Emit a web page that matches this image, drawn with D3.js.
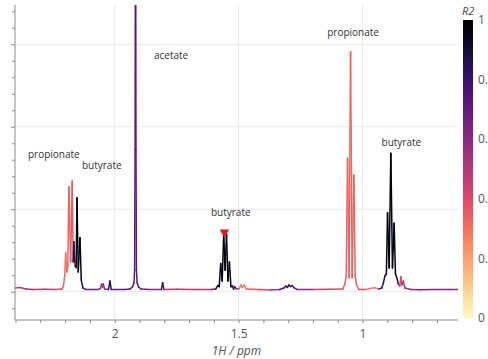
<!DOCTYPE html>
<html>
<head>
<meta charset="utf-8">
<script src="https://cdn.jsdelivr.net/npm/d3@7"></script>
<style>
  html, body { margin: 0; padding: 0; background: #fff; }
  svg { display: block; }
  text { font-family: "Open Sans", "Noto Sans", sans-serif; }
</style>
</head>
<body>
<svg id="chart" width="488" height="359"></svg>
<script>
// 1H NMR spectrum (chemical shift in ppm), each point coloured by its R2 value
const ppm = [
  2.402, 2.382, 2.358, 2.329, 2.281, 2.241, 2.212,
  2.2065, 2.2012, 2.1976, 2.1935, 2.189, 2.1843, 2.1776, 2.171, 2.1673, 2.1645, 2.160, 2.1577, 2.1552,
  2.152, 2.1468, 2.1399, 2.1347, 2.1278, 2.1157,
  2.0673, 2.0573, 2.0524, 2.0492, 2.046, 2.0411, 2.025, 2.019, 2.0137, 1.9585,
  1.9383, 1.9282, 1.9222, 1.9195, 1.9176, 1.9164, 1.9152, 1.914, 1.9122, 1.9093, 1.9032, 1.894,
  1.86, 1.8113, 1.8065, 1.8016, 1.75, 1.68, 1.61,
  1.592, 1.5843, 1.5783, 1.5722, 1.5662, 1.5601, 1.5545, 1.5488, 1.543, 1.5371, 1.531, 1.525,
  1.520, 1.5169, 1.5109, 1.4988, 1.4907, 1.4847, 1.4766, 1.4685, 1.42, 1.37,
  1.3335, 1.3173, 1.3093, 1.3032, 1.2972, 1.2911, 1.2851, 1.277, 1.265, 1.20, 1.13,
  1.0794, 1.0714, 1.0661, 1.0605, 1.0544, 1.0484, 1.042, 1.0351, 1.0298, 1.0242, 1.0149,
  0.9867, 0.9625, 0.9504, 0.9343,
  0.9222, 0.9161, 0.91, 0.904, 0.8992, 0.8927, 0.8859, 0.8794, 0.8726, 0.8673, 0.8617, 0.8556,
  0.8496, 0.8456, 0.8415, 0.8355, 0.8294, 0.8048, 0.769, 0.7085, 0.648, 0.6157
];
const intensity = [
  0.045, 0.050, 0.033, 0.027, 0.029, 0.027, 0.033,
  0.069, 0.20, 0.473, 0.239, 0.31, 1.273, 0.36, 1.342, 0.36, 0.606, 0.31, 0.36, 0.29,
  1.14, 0.24, 0.655, 0.14, 0.045, 0.027,
  0.027, 0.039, 0.093, 0.057, 0.093, 0.033, 0.027, 0.13, 0.027, 0.027,
  0.033, 0.057, 0.105, 0.263, 1.72, 4.0, 4.0, 1.72, 0.263, 0.105, 0.057, 0.033,
  0.027, 0.027, 0.109, 0.027, 0.029, 0.027, 0.027,
  0.033, 0.075, 0.06, 0.342, 0.13, 0.706, 0.26, 0.694, 0.13, 0.36, 0.06, 0.069,
  0.030, 0.063, 0.039, 0.033, 0.081, 0.051, 0.081, 0.033, 0.027, 0.022,
  0.027, 0.045, 0.069, 0.053, 0.081, 0.063, 0.075, 0.051, 0.027, 0.027, 0.029,
  0.033, 0.093, 0.19, 1.618, 0.166, 2.91, 0.166, 1.415, 0.19, 0.081, 0.027,
  0.027, 0.041, 0.047, 0.033,
  0.045, 0.105, 0.19, 0.215, 0.958, 0.287, 1.678, 0.287, 0.829, 0.215, 0.166, 0.093,
  0.069, 0.182, 0.081, 0.13, 0.045, 0.027, 0.024, 0.027, 0.027, 0.027
];
const r2 = [
  0.45, 0.50, 0.55, 0.60, 0.50, 0.45, 0.40,
  0.35, 0.32, 0.30, 0.32, 0.33, 0.33, 0.35, 0.35, 0.60, 0.85, 0.70, 0.40, 0.80,
  0.97, 0.90, 0.95, 0.85, 0.70, 0.65,
  0.65, 0.60, 0.55, 0.55, 0.55, 0.60, 0.65, 0.85, 0.70, 0.65,
  0.70, 0.72, 0.72, 0.72, 0.72, 0.72, 0.72, 0.72, 0.72, 0.72, 0.72, 0.65,
  0.60, 0.60, 0.85, 0.60, 0.50, 0.50, 0.55,
  0.70, 0.90, 0.85, 0.95, 0.95, 0.97, 0.97, 0.97, 0.95, 0.95, 0.85, 0.90,
  0.75, 0.75, 0.60, 0.35, 0.30, 0.30, 0.30, 0.35, 0.42, 0.45,
  0.55, 0.75, 0.80, 0.80, 0.85, 0.80, 0.80, 0.75, 0.60, 0.45, 0.45,
  0.40, 0.35, 0.33, 0.33, 0.33, 0.33, 0.33, 0.33, 0.33, 0.35, 0.40,
  0.40, 0.30, 0.28, 0.35,
  0.70, 0.80, 0.85, 0.90, 0.97, 0.95, 0.98, 0.95, 0.97, 0.90, 0.85, 0.70,
  0.50, 0.40, 0.45, 0.50, 0.55, 0.60, 0.60, 0.62, 0.60, 0.60
];

// x-axis ticks every 0.1 ppm; only these carry labels
const xMinorTicks = d3.range(7, 25).map(d => d / 10);
const xLabelValues = [2, 1.5, 1];
const xLabelTexts = ["2", "1.5", "1"];
// y-axis: unlabelled ticks, gridlines at whole units
const yMinorTicks = d3.range(-1, 18).map(d => d / 5);
const yGrid = [0, 1, 2, 3];

// metabolite assignments (left edge of label in ppm, baseline in intensity units)
const noteText = ["acetate", "propionate", "butyrate", "butyrate", "propionate", "butyrate"];
const notePpm = [1.8415, 2.3496, 2.1319, 1.6117, 1.1427, 0.9234];
const noteLevel = [2.822, 1.627, 1.488, 0.918, 3.10, 1.767];

// selected peak marker
const markerPpm = 1.5573;
const markerLevel = 0.72;

// colour-bar ticks
const cbTicks = [0, 0.2, 0.4, 0.6, 0.8, 1];
const cbTickText = ["0", "0.2", "0.4", "0.6", "0.8", "1"];

const svg = d3.select("#chart");
const plot = { left: 15, right: 458, top: 5, bottom: 320 };

const x = d3.scaleLinear().domain([2.402, 0.615]).range([plot.left, plot.right]);
const y = d3.scaleLinear().domain([-0.343, 3.476]).range([plot.bottom, plot.top]);
const color = v => d3.interpolateMagma(1 - v);

// gridlines
const grid = svg.append("g").attr("stroke", "#e9e9e9").attr("stroke-width", 1);
grid.selectAll("line.v").data(xLabelValues).join("line")
  .attr("class", "v")
  .attr("x1", d => x(d)).attr("x2", d => x(d))
  .attr("y1", plot.top).attr("y2", plot.bottom);
grid.selectAll("line.h").data(yGrid).join("line")
  .attr("class", "h")
  .attr("x1", plot.left).attr("x2", plot.right)
  .attr("y1", d => y(d)).attr("y2", d => y(d));

// spectrum, one segment per pair of neighbouring points
svg.append("defs").append("clipPath").attr("id", "plotClip")
  .append("rect")
  .attr("x", plot.left).attr("y", plot.top)
  .attr("width", plot.right - plot.left).attr("height", plot.bottom - plot.top);

const points = ppm.map((p, i) => ({ p, v: intensity[i], r: r2[i] }));
const segs = d3.pairs(points);
svg.append("g").attr("clip-path", "url(#plotClip)")
  .selectAll("line").data(segs).join("line")
  .attr("x1", d => x(d[0].p)).attr("y1", d => y(d[0].v))
  .attr("x2", d => x(d[1].p)).attr("y2", d => y(d[1].v))
  .attr("stroke", d => color(d[0].v >= d[1].v ? d[0].r : d[1].r))
  .attr("stroke-width", 1.5)
  .attr("stroke-linecap", "round");

// axes
const xAxis = d3.axisBottom(x)
  .tickValues(xMinorTicks)
  .tickSize(3)
  .tickPadding(6)
  .tickFormat(d => {
    const k = xLabelValues.findIndex(v => Math.abs(v - d) < 1e-9);
    return k >= 0 ? xLabelTexts[k] : "";
  });
const gx = svg.append("g").attr("transform", `translate(0,${plot.bottom})`).call(xAxis);
gx.select(".domain").attr("stroke", "#8c8c8c").attr("d", `M${plot.left},0H${plot.right}`);
gx.selectAll(".tick line").attr("stroke", "#8c8c8c");
gx.selectAll(".tick text")
  .attr("fill", "#555").attr("font-size", 12)
  .attr("font-family", "'Open Sans', sans-serif");

const yAxis = d3.axisLeft(y).tickValues(yMinorTicks).tickSize(3).tickFormat("");
const gy = svg.append("g").attr("transform", `translate(${plot.left},0)`).call(yAxis);
gy.select(".domain").attr("stroke", "#8c8c8c").attr("d", `M0,${plot.top}V${plot.bottom}`);
gy.selectAll(".tick line").attr("stroke", "#8c8c8c")
  .attr("x2", d => Math.abs(d - Math.round(d)) < 1e-9 ? -4 : -3);

svg.append("text")
  .attr("x", (plot.left + plot.right) / 2).attr("y", 355)
  .attr("text-anchor", "middle")
  .attr("font-size", 12).attr("font-style", "italic").attr("fill", "#555")
  .text("1H / ppm");

// annotations
svg.append("g").selectAll("text").data(noteText).join("text")
  .attr("x", (d, i) => x(notePpm[i]))
  .attr("y", (d, i) => y(noteLevel[i]))
  .attr("font-size", 10).attr("fill", "#333")
  .text(d => d);

// peak marker
svg.append("path")
  .attr("d", d3.symbol(d3.symbolTriangle, 38)())
  .attr("transform", `translate(${x(markerPpm)},${y(markerLevel)}) rotate(180)`)
  .attr("fill", "#e5141b");

// colour bar
const cb = { x: 463, w: 10 };
const cbScale = d3.scaleLinear().domain([0, 1]).range([318, 20]);
const grad = svg.select("defs").append("linearGradient")
  .attr("id", "r2grad").attr("x1", 0).attr("y1", 1).attr("x2", 0).attr("y2", 0);
grad.selectAll("stop").data(d3.range(0, 1.0001, 0.05)).join("stop")
  .attr("offset", d => d)
  .attr("stop-color", d => color(d));
svg.append("rect")
  .attr("x", cb.x).attr("y", cbScale(1))
  .attr("width", cb.w).attr("height", cbScale(0) - cbScale(1))
  .attr("fill", "url(#r2grad)");
svg.append("g").selectAll("text").data(cbTicks).join("text")
  .attr("x", 478).attr("y", d => cbScale(d))
  .attr("dy", "0.35em")
  .attr("font-size", 12).attr("fill", "#555")
  .text((d, i) => cbTickText[i]);
svg.append("text")
  .attr("x", 462).attr("y", 15)
  .attr("font-size", 11).attr("font-style", "italic").attr("fill", "#444")
  .text("R2");
</script>
</body>
</html>
